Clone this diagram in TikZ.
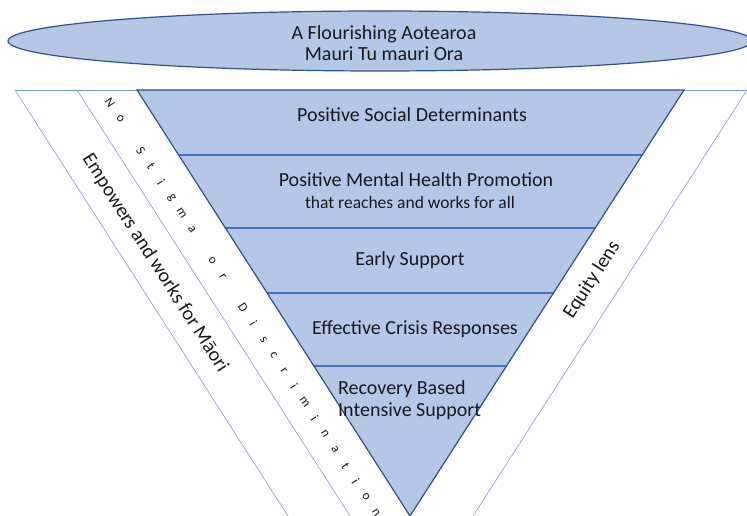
\documentclass[tikz,border=0pt]{standalone}
\usepackage{fontspec}
\setmainfont{Carlito}
\usepackage{xcolor}
\definecolor{funnel area}{HTML}{B4C7E7}
\definecolor{funnel edge}{HTML}{2F528F}
\definecolor{band edge}{HTML}{4472C4}
\definecolor{strip edge}{HTML}{7A9CDB}
\tikzstyle{bandtext} = [font=\fontsize{20}{22}\selectfont, align=center, inner sep=0pt, text=black!90]
\tikzstyle{smalltext} = [font=\fontsize{17.5}{20}\selectfont, inner sep=0pt, text=black!90]
\tikzstyle{spaced} = [font=\fontsize{13}{15}\selectfont, inner sep=0pt, text=black!90]
\tikzset{filled/.style={fill=funnel area, draw=funnel edge, line width=1.2pt},
    outline/.style={draw=funnel edge, line width=1.2pt},
    band/.style={draw=band edge, line width=1.1pt},
    strip/.style={draw=strip edge, line width=0.6pt}}

\begin{document}
\begin{tikzpicture}[x=1pt,y=1pt]
    \useasboundingbox (0,0) rectangle (747,516);
    % Definition of the funnel
    \coordinate (tl) at (137,426);
    \coordinate (tr) at (684,426);
    \coordinate (apex) at (410,0);
    \def\funnel{(tl) -- (tr) -- (apex) -- cycle}
    %
    % side strips
    \draw[strip] (15,426) -- (747,426);
    \draw[strip] (15,426) -- ++(273,-426);
    \draw[strip] (77,426) -- ++(273,-426);
    \draw[strip] (747,426) -- ++(-274,-426);
    % funnel and its bands
    \fill[funnel area] \funnel;
    \begin{scope}
        \clip \funnel;
        \foreach \y in {361,288,223,150}
            \draw[band] (0,\y) -- (747,\y);
    \end{scope}
    \draw[outline] \funnel;
    % top ellipse
    \draw[filled] (380,475) ellipse (372pt and 30pt);
    \node[bandtext, font=\fontsize{20}{21}\selectfont] (goal) at (384,473) {A Flourishing Aotearoa\\Mauri Tu mauri Ora};
    %
    \node[bandtext] (social) at (412,401) {Positive Social Determinants};
    \node[bandtext] (promo) at (416,336) {Positive Mental Health Promotion};
    \node[smalltext] (reach) at (410,314) {that reaches and works for all};
    \node[bandtext] (early) at (410,256) {Early Support};
    \node[bandtext] (crisis) at (415,187) {Effective Crisis Responses};
    \node[bandtext, align=left, anchor=west] (recovery) at (338,116) {Recovery Based\\Intensive Support};
    % strip texts
    \node[bandtext, rotate=-57.4] (maori) at (155,253) {Empowers and works for Māori};
    \node[bandtext, rotate=57.2] (equity) at (592,236) {Equity lens};
    \coordinate (nsd) at (110,413);
    \foreach \c [count=\i from 0] in {N,o,{},S,t,i,g,m,a,{},o,r,{},D,i,s,c,r,i,m,i,n,a,t,i,o,n}
        \node[spaced, rotate=-57] at ([shift={(-57:\i*18.8pt)}]nsd) {\c};
\end{tikzpicture}
\end{document}
